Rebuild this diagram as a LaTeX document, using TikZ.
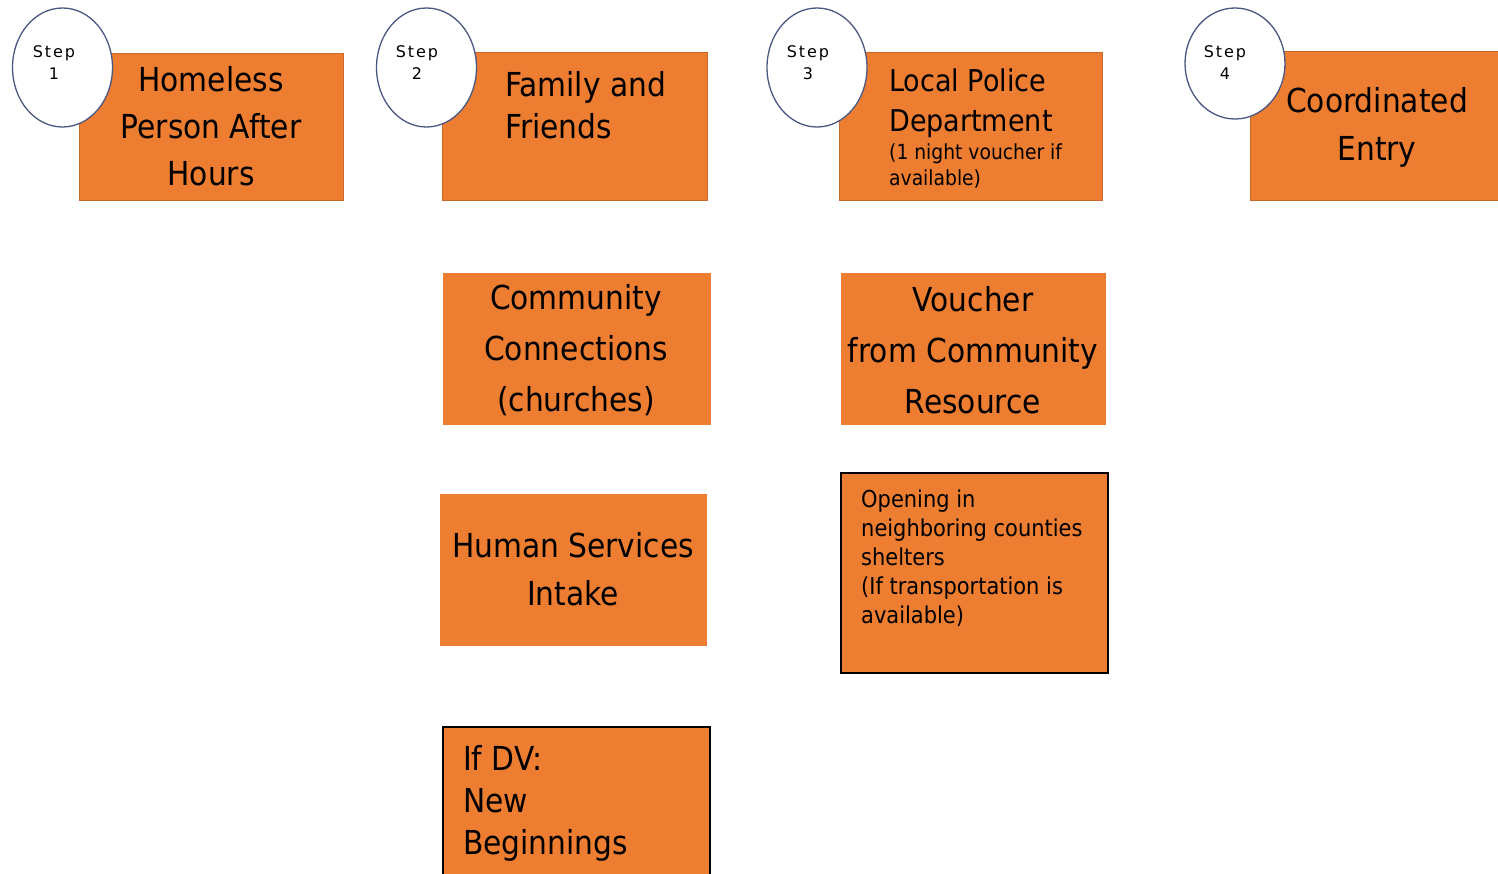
\documentclass[tikz,border=0pt]{standalone}
\usepackage{fontspec}
\usetikzlibrary{shapes.geometric}
\setmainfont{DejaVu Sans}[FakeStretch=0.9]
\newfontfamily\stepfont{DejaVu Sans}[LetterSpace=12]
\definecolor{boxorange}{HTML}{ED7D31}
\definecolor{boxedge}{HTML}{C9682A}
\definecolor{circedge}{HTML}{4A5782}
\begin{document}
\begin{tikzpicture}[x=1pt,y=-1pt,
  obox/.style={fill=boxorange,draw=boxedge,line width=0.8pt},
  plainbox/.style={fill=boxorange},
  blackbox/.style={fill=boxorange,draw=black,line width=2pt},
  stepcirc/.style={ellipse,fill=white,draw=circedge,line width=1.3pt,inner sep=0,minimum width=100pt,minimum height=119pt},
  steplbl/.style={align=center,font=\stepfont\fontsize{16}{22}\selectfont,inner sep=0},
  bigtxt/.style={inner sep=0,font=\fontsize{33}{47}\selectfont},
]
\useasboundingbox (0,0) rectangle (1498,874);
% top row boxes
\path[obox] (79,53) rectangle (343,200);
\path[obox] (442,52) rectangle (707,200);
\path[obox] (839,52) rectangle (1102,200);
\path[obox] (1250,51) rectangle (1500,200);
% step circles
\node[stepcirc] (c1) at (62.5,67.5) {};
\node[stepcirc] (c2) at (426.5,67.5) {};
\node[stepcirc] (c3) at (817,67.5) {};
\node[stepcirc,minimum height=111pt] (c4) at (1235,63.5) {};
\node[steplbl] (s1) at (54,63) {Step\\1};
\node[steplbl] (s2) at (417,63) {Step\\2};
\node[steplbl] (s3) at (808,63) {Step\\3};
\node[steplbl] (s4) at (1225,63) {Step\\4};
% top texts
\node[bigtxt,align=center] (t1) at (211,126) {Homeless\\Person After\\Hours};
\node[bigtxt,align=left,anchor=west,font=\fontsize{33}{42}\selectfont] (t2) at (505,105) {Family and\\Friends};
\node[inner sep=0,align=left,anchor=west,font=\fontsize{30}{40}\selectfont] (t3) at (889,103) {Local Police\\Department};
\node[inner sep=0,align=left,anchor=west,font=\fontsize{20.8}{26}\selectfont] (t3b) at (889,166) {(1 night voucher if\\available)};
\node[bigtxt,align=center,font=\fontsize{33}{48}\selectfont] (t4) at (1377,127) {Coordinated\\Entry};
% second row
\path[plainbox] (443,273) rectangle (711,425);
\node[bigtxt,align=center,font=\fontsize{33}{51}\selectfont] (cc) at (576,350) {Community\\Connections\\(churches)};
\path[plainbox] (841,273) rectangle (1106,425);
\node[bigtxt,align=center,font=\fontsize{33}{51}\selectfont] (vc) at (973,350) {Voucher\\from Community\\Resource};
% third row
\path[plainbox] (440,494) rectangle (707,646);
\node[bigtxt,align=center,font=\fontsize{33}{48}\selectfont] (hs) at (573,569) {Human Services\\Intake};
\path[blackbox] (841,473) rectangle (1108,673);
\node[inner sep=0,align=left,anchor=west,font=\fontsize{23.3}{29}\selectfont] (op) at (861,558) {Opening in\\neighboring counties\\shelters\\(If transportation is\\available)};
% fourth row
\path[blackbox] (443,727) rectangle (710,880);
\node[bigtxt,align=left,anchor=west,font=\fontsize{33}{42}\selectfont] (dv) at (463,803) {If DV:\\New\\Beginnings};
\end{tikzpicture}
\end{document}
